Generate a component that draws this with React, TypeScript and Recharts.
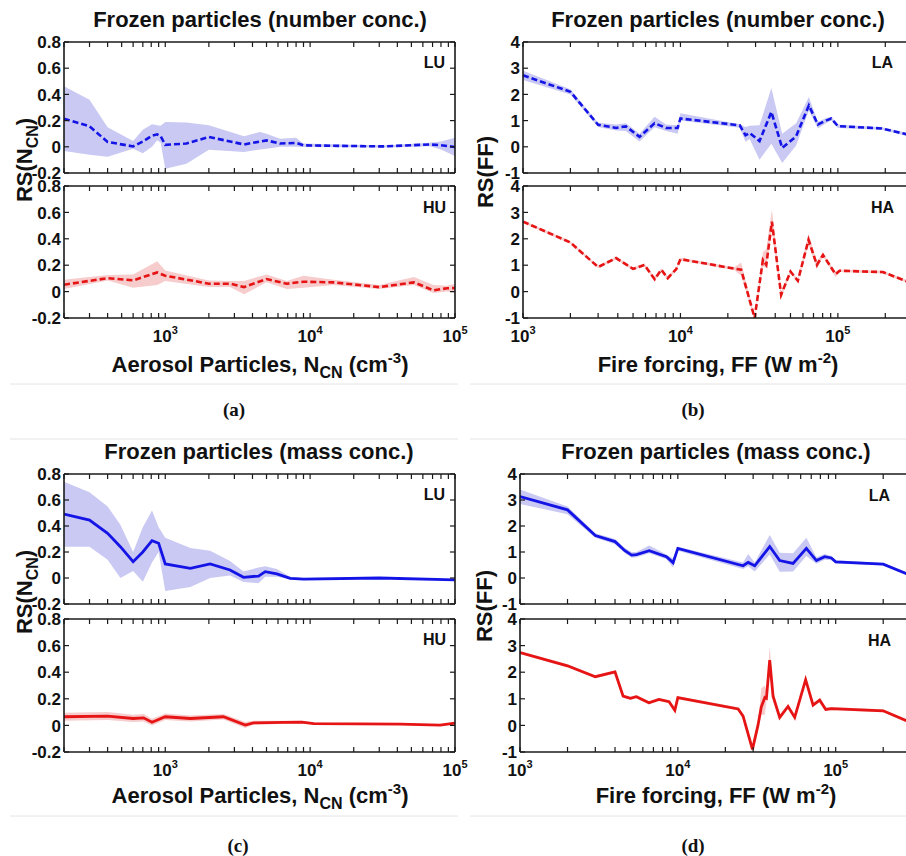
import { ComposedChart, Area, Line, XAxis, YAxis } from 'recharts'

// ---- (a) number concentration vs aerosol particles N_CN ----
const numLuX = [200, 300, 400, 600, 700, 810, 880, 930, 1000, 1400, 2000, 3500, 4500, 5000, 6200, 8000, 9000, 32000, 67000, 80000, 100000]
const numLuMean = [0.215, 0.156, 0.037, 0.003, 0.04, 0.085, 0.095, 0.08, 0.015, 0.025, 0.075, 0.018, 0.04, 0.049, 0.025, 0.03, 0.011, 0.003, 0.018, 0.012, -0.002]
const numLuHigh = [0.462, 0.36, 0.15, 0.044, 0.13, 0.172, 0.165, 0.16, 0.19, 0.185, 0.164, 0.08, 0.113, 0.1, 0.062, 0.07, 0.025, 0.01, 0.03, 0.04, 0.07]
const numLuLow = [-0.032, -0.06, -0.075, -0.014, -0.05, 0.0, 0.05, 0.03, -0.167, -0.13, -0.022, -0.04, -0.02, -0.014, 0.0, 0.0, -0.002, -0.005, 0.005, -0.02, -0.07]

const numHuX = [200, 400, 600, 880, 1000, 2000, 2800, 3500, 5000, 6900, 9000, 14500, 30000, 52000, 71000, 88000, 100000]
const numHuMean = [0.052, 0.102, 0.085, 0.145, 0.12, 0.06, 0.06, 0.034, 0.095, 0.06, 0.075, 0.07, 0.034, 0.07, 0.01, 0.025, 0.027]
const numHuHigh = [0.09, 0.125, 0.13, 0.23, 0.16, 0.085, 0.08, 0.08, 0.13, 0.08, 0.12, 0.09, 0.05, 0.11, 0.05, 0.045, 0.06]
const numHuLow = [0.02, 0.085, 0.03, 0.05, 0.08, 0.035, 0.035, -0.02, 0.07, 0.02, 0.03, 0.05, 0.02, 0.05, -0.01, 0.0, -0.01]

// ---- (b) number concentration vs fire forcing FF ----
const numLaX = [1000, 2000, 3000, 3900, 4500, 5500, 6850, 8100, 9600, 10000, 23800, 25900, 27500, 31800, 37800, 44300, 54300, 65400, 74700, 84000, 90700, 100000, 190000, 300000]
const numLaMean = [2.73, 2.1, 0.84, 0.72, 0.78, 0.38, 0.9, 0.72, 0.72, 1.08, 0.82, 0.44, 0.53, 0.22, 1.33, -0.04, 0.4, 1.58, 0.85, 1.0, 1.08, 0.79, 0.7, 0.42]
const numLaHigh = [2.9, 2.2, 0.92, 0.85, 0.9, 0.5, 1.15, 0.85, 0.82, 1.28, 0.86, 0.76, 0.8, 0.82, 2.24, 0.5, 0.9, 1.9, 0.95, 1.1, 1.15, 0.85, 0.75, 0.48]
const numLaLow = [2.55, 2.0, 0.76, 0.62, 0.6, 0.2, 0.75, 0.6, 0.5, 1.0, 0.73, 0.19, 0.3, -0.49, 0.12, -0.62, 0.05, 1.39, 0.7, 0.9, 1.0, 0.72, 0.65, 0.36]

const numHaX = [1000, 2000, 3000, 3900, 5000, 5900, 6860, 7550, 8300, 9400, 10000, 22000, 24300, 29600, 33400, 35100, 38100, 43600, 50000, 55700, 65100, 73600, 80400, 96600, 102600, 193000, 300000]
const numHaMean = [2.65, 1.86, 0.93, 1.27, 0.86, 1.01, 0.47, 0.83, 0.51, 0.85, 1.23, 0.87, 0.83, -1.0, 1.2, 1.01, 2.65, -0.12, 0.76, 0.41, 1.96, 1.01, 1.39, 0.66, 0.79, 0.74, 0.3]
const numHaHigh = [2.7, 1.91, 0.98, 1.32, 0.91, 1.06, 0.55, 0.88, 0.58, 0.9, 1.28, 0.92, 1.1, -0.95, 1.5, 1.6, 3.1, 0.0, 0.82, 0.47, 2.2, 1.15, 1.45, 0.75, 0.84, 0.79, 0.35]
const numHaLow = [2.6, 1.81, 0.88, 1.22, 0.81, 0.96, 0.4, 0.78, 0.44, 0.8, 1.18, 0.82, 0.6, -1.05, 0.95, 0.9, 2.3, -0.25, 0.7, 0.35, 1.8, 0.85, 1.33, 0.55, 0.74, 0.69, 0.25]

// ---- (c) mass concentration vs aerosol particles N_CN ----
const massLuX = [200, 300, 400, 490, 600, 700, 810, 900, 1000, 1490, 2040, 2800, 3470, 4400, 4900, 5890, 7280, 9000, 30000, 100000]
const massLuMean = [0.492, 0.446, 0.344, 0.241, 0.126, 0.2, 0.287, 0.267, 0.108, 0.074, 0.108, 0.062, 0.005, 0.015, 0.049, 0.031, -0.003, -0.008, 0.0, -0.015]
const massLuHigh = [0.74, 0.66, 0.55, 0.41, 0.2, 0.39, 0.52, 0.39, 0.31, 0.23, 0.21, 0.13, 0.05, 0.08, 0.09, 0.07, 0.01, 0.0, 0.005, -0.01]
const massLuLow = [0.24, 0.24, 0.14, 0.0, 0.054, -0.028, 0.12, 0.2, -0.1, -0.07, 0.0, 0.02, -0.03, -0.04, 0.01, 0.01, -0.01, -0.012, -0.005, -0.02]

const massHuX = [200, 400, 600, 708, 810, 1000, 1490, 2520, 3570, 4060, 6550, 8770, 10600, 41800, 78900, 100000]
const massHuMean = [0.065, 0.07, 0.052, 0.057, 0.024, 0.065, 0.052, 0.065, 0.002, 0.019, 0.022, 0.024, 0.014, 0.009, 0.002, 0.017]
const massHuHigh = [0.095, 0.1, 0.08, 0.085, 0.05, 0.09, 0.075, 0.085, 0.025, 0.035, 0.035, 0.035, 0.022, 0.015, 0.008, 0.025]
const massHuLow = [0.035, 0.04, 0.025, 0.03, 0.0, 0.04, 0.03, 0.045, -0.02, 0.005, 0.01, 0.012, 0.006, 0.003, -0.004, 0.009]

// ---- (d) mass concentration vs fire forcing FF ----
const massLaX = [1000, 2000, 3000, 4000, 4620, 5100, 5470, 6590, 8470, 9330, 10000, 25900, 27900, 30700, 38200, 44200, 53700, 65200, 75500, 85200, 93900, 100000, 200000, 300000]
const massLaMean = [3.13, 2.62, 1.63, 1.4, 1.05, 0.88, 0.9, 1.05, 0.82, 0.59, 1.14, 0.47, 0.6, 0.47, 1.21, 0.67, 0.56, 1.14, 0.67, 0.82, 0.77, 0.62, 0.53, 0.1]
const massLaHigh = [3.4, 2.75, 1.72, 1.5, 1.15, 1.0, 1.0, 1.25, 0.9, 0.75, 1.2, 0.6, 0.92, 0.6, 1.65, 0.97, 0.95, 1.55, 0.8, 0.92, 0.85, 0.68, 0.58, 0.15]
const massLaLow = [2.85, 2.45, 1.55, 1.3, 0.95, 0.78, 0.8, 0.95, 0.72, 0.4, 1.05, 0.35, 0.45, 0.25, 0.9, 0.24, 0.25, 0.85, 0.55, 0.7, 0.68, 0.56, 0.48, 0.05]

const massHaX = [1000, 2000, 3000, 4000, 4500, 5000, 5460, 6560, 7590, 8800, 9570, 10000, 24100, 25900, 29700, 32200, 33800, 35600, 36400, 38200, 40100, 44200, 49900, 55000, 64500, 71900, 79200, 86500, 93900, 200000, 300000]
const massHaMean = [2.74, 2.24, 1.83, 2.01, 1.1, 1.02, 1.08, 0.85, 0.98, 0.89, 0.57, 1.04, 0.62, 0.35, -0.9, 0.01, 0.7, 1.05, 1.02, 2.45, 1.1, 0.3, 0.71, 0.3, 1.72, 0.76, 0.95, 0.6, 0.63, 0.55, 0.1]
const massHaHigh = [2.8, 2.3, 1.89, 2.07, 1.16, 1.08, 1.14, 0.91, 1.04, 0.95, 0.63, 1.1, 0.68, 0.41, -0.84, 0.07, 1.4, 1.5, 1.3, 2.95, 1.3, 0.36, 0.77, 0.36, 1.78, 0.82, 1.01, 0.66, 0.69, 0.61, 0.16]
const massHaLow = [2.68, 2.18, 1.77, 1.95, 1.04, 0.96, 1.02, 0.79, 0.92, 0.83, 0.51, 0.98, 0.56, 0.29, -0.96, -0.05, 0.4, 0.4, 0.9, 2.1, 0.95, 0.24, 0.65, 0.24, 1.66, 0.7, 0.89, 0.54, 0.57, 0.49, 0.04]

// axis ranges and tick labels
const ncnDomain: [number, number] = [200, 100000]
const ffDomain: [number, number] = [1000, 300000]
const decadeTicks = [1000, 10000, 100000]
const smallYTicks = [-0.2, 0, 0.2, 0.4, 0.6, 0.8]
const bigYTicks = [-1, 0, 1, 2, 3, 4]

const FONT = '"Liberation Sans", Arial, Helvetica, sans-serif'
const AXIS = '#1a1a1a'
const BLUE = '#1414e6'
const RED = '#e61414'
const BLUE_BAND = '#c9c9f3'
const RED_BAND = '#f6cccc'

// 1..9 x 10^k ticks (minor + major) within a log domain
const logTicks = ([lo, hi]: [number, number]) => {
  const out: number[] = []
  for (let p = Math.floor(Math.log10(lo)); p <= Math.ceil(Math.log10(hi)); p++) {
    for (let m = 1; m <= 9; m++) {
      const v = m * Math.pow(10, p)
      if (v >= lo - 1e-9 && v <= hi + 1e-9) out.push(v)
    }
  }
  return out
}

const toRows = (xs: number[], mean: number[], low: number[], high: number[]) =>
  xs.map((x, i) => ({ x, mean: mean[i], band: [low[i], high[i]] }))

type SubplotProps = {
  left: number
  top: number
  width: number
  height: number
  rows: { x: number; mean: number; band: number[] }[]
  xDomain: [number, number]
  yTicks: number[]
  color: string
  bandColor: string
  dashed: boolean
  xLabels: boolean
}

const TICK = 5

const Subplot = ({ left, top, width, height, rows, xDomain, yTicks, color, bandColor, dashed, xLabels }: SubplotProps) => {
  const padL = 60
  const padT = 10
  const padR = xLabels ? 24 : 10
  const padB = xLabels ? 34 : 10
  const xTicks = logTicks(xDomain)
  const yDomain: [number, number] = [yTicks[0], yTicks[yTicks.length - 1]]

  const bottomTick = (p: any) => {
    const v = p.payload.value
    const major = decadeTicks.includes(v)
    return (
      <g>
        <line x1={p.x} x2={p.x} y1={p.y} y2={p.y - TICK} stroke={AXIS} strokeWidth={1.2} />
        {xLabels && major && (
          <text x={p.x} y={p.y + 24} textAnchor="middle" fontFamily={FONT} fontWeight="bold" fontSize={17} fill="#111">
            10
            <tspan dy={-8} fontSize={11}>
              {Math.round(Math.log10(v))}
            </tspan>
          </text>
        )}
      </g>
    )
  }
  const topTick = (p: any) => <line x1={p.x} x2={p.x} y1={p.y} y2={p.y + TICK} stroke={AXIS} strokeWidth={1.2} />
  const leftTick = (p: any) => (
    <g>
      <line x1={p.x} x2={p.x + TICK} y1={p.y} y2={p.y} stroke={AXIS} strokeWidth={1.2} />
      <text x={p.x - 3} y={p.y} dy="0.36em" textAnchor="end" fontFamily={FONT} fontWeight="bold" fontSize={17} fill="#111">
        {String(p.payload.value)}
      </text>
    </g>
  )
  const rightTick = (p: any) => <line x1={p.x} x2={p.x - TICK} y1={p.y} y2={p.y} stroke={AXIS} strokeWidth={1.2} />

  const axisLine = { stroke: AXIS, strokeWidth: 1.6 }

  return (
    <div style={{ position: 'absolute', left: left - padL, top: top - padT }}>
      <ComposedChart
        width={padL + width + padR}
        height={padT + height + padB}
        data={rows}
        margin={{ top: 0, right: 0, bottom: 0, left: 0 }}
      >
        <XAxis
          xAxisId="b"
          orientation="bottom"
          type="number"
          dataKey="x"
          scale="log"
          domain={xDomain}
          allowDataOverflow
          ticks={xTicks}
          interval={0}
          height={padB}
          tickSize={0}
          tickMargin={0}
          tickLine={false}
          axisLine={axisLine}
          tick={bottomTick}
        />
        <XAxis
          xAxisId="t"
          orientation="top"
          type="number"
          dataKey="x"
          scale="log"
          domain={xDomain}
          allowDataOverflow
          ticks={xTicks}
          interval={0}
          height={padT}
          tickSize={0}
          tickMargin={0}
          tickLine={false}
          axisLine={axisLine}
          tick={topTick}
        />
        <YAxis
          yAxisId="l"
          orientation="left"
          type="number"
          domain={yDomain}
          allowDataOverflow
          ticks={yTicks}
          interval={0}
          width={padL}
          tickSize={0}
          tickMargin={0}
          tickLine={false}
          axisLine={axisLine}
          tick={leftTick}
        />
        <YAxis
          yAxisId="r"
          orientation="right"
          type="number"
          domain={yDomain}
          allowDataOverflow
          ticks={yTicks}
          interval={0}
          width={padR}
          tickSize={0}
          tickMargin={0}
          tickLine={false}
          axisLine={axisLine}
          tick={rightTick}
        />
        <Area
          xAxisId="b"
          yAxisId="l"
          dataKey="band"
          type="linear"
          stroke="none"
          fill={bandColor}
          fillOpacity={1}
          dot={false}
          activeDot={false}
          isAnimationActive={false}
        />
        <Line
          xAxisId="b"
          yAxisId="l"
          dataKey="mean"
          type="linear"
          stroke={color}
          strokeWidth={dashed ? 2.6 : 2.8}
          strokeDasharray={dashed ? '6 3' : undefined}
          dot={false}
          activeDot={false}
          isAnimationActive={false}
        />
        <Line xAxisId="t" yAxisId="r" dataKey="mean" stroke="none" dot={false} activeDot={false} isAnimationActive={false} />
      </ComposedChart>
    </div>
  )
}

const txt = { fontFamily: FONT, fontWeight: 'bold' as const, fill: '#111' }

const Title = ({ x, y, children }: { x: number; y: number; children: any }) => (
  <text x={x} y={y} textAnchor="middle" fontSize={22} {...txt}>
    {children}
  </text>
)

const NcnLabel = ({ x, y }: { x: number; y: number }) => (
  <text transform={`translate(${x},${y}) rotate(-90)`} textAnchor="middle" fontSize={22} {...txt}>
    RS(N
    <tspan dy={6} fontSize={16}>
      CN
    </tspan>
    <tspan dy={-6}>)</tspan>
  </text>
)

const FfLabel = ({ x, y }: { x: number; y: number }) => (
  <text transform={`translate(${x},${y}) rotate(-90)`} textAnchor="middle" fontSize={22} {...txt}>
    RS(FF)
  </text>
)

const NcnTitle = ({ x, y }: { x: number; y: number }) => (
  <text x={x} y={y} textAnchor="middle" fontSize={22} {...txt}>
    Aerosol Particles, N
    <tspan dy={6} fontSize={16}>
      CN
    </tspan>
    <tspan dy={-6}> (cm</tspan>
    <tspan dy={-9} fontSize={15}>
      -3
    </tspan>
    <tspan dy={9}>)</tspan>
  </text>
)

const FfTitle = ({ x, y }: { x: number; y: number }) => (
  <text x={x} y={y} textAnchor="middle" fontSize={22} {...txt}>
    Fire forcing, FF (W m
    <tspan dy={-9} fontSize={15}>
      -2
    </tspan>
    <tspan dy={9}>)</tspan>
  </text>
)

const Tag = ({ x, y, children }: { x: number; y: number; children: string }) => (
  <text x={x} y={y} textAnchor="end" fontSize={16} {...txt}>
    {children}
  </text>
)

const PanelLetter = ({ x, y, children }: { x: number; y: number; children: string }) => (
  <text x={x} y={y} textAnchor="middle" fontSize={19} fontFamily='"Liberation Serif", "Times New Roman", serif' fontWeight="bold" fill="#111">
    {children}
  </text>
)

export default function App() {
  const blueDash = { color: BLUE, bandColor: BLUE_BAND }
  const redDash = { color: RED, bandColor: RED_BAND }
  return (
    <div style={{ position: 'absolute', left: 0, top: 0, width: 906, height: 856, overflow: 'hidden', background: '#fff' }}>
      {/* (a) */}
      <Subplot left={64} top={42} width={391} height={131} rows={toRows(numLuX, numLuMean, numLuLow, numLuHigh)} xDomain={ncnDomain} yTicks={smallYTicks} {...blueDash} dashed xLabels={false} />
      <Subplot left={64} top={186} width={391} height={132} rows={toRows(numHuX, numHuMean, numHuLow, numHuHigh)} xDomain={ncnDomain} yTicks={smallYTicks} {...redDash} dashed xLabels />
      {/* (b) */}
      <Subplot left={523} top={42} width={390} height={131} rows={toRows(numLaX, numLaMean, numLaLow, numLaHigh)} xDomain={ffDomain} yTicks={bigYTicks} {...blueDash} dashed xLabels={false} />
      <Subplot left={523} top={186} width={390} height={132} rows={toRows(numHaX, numHaMean, numHaLow, numHaHigh)} xDomain={ffDomain} yTicks={bigYTicks} {...redDash} dashed xLabels />
      {/* (c) */}
      <Subplot left={64} top={474} width={391} height={130} rows={toRows(massLuX, massLuMean, massLuLow, massLuHigh)} xDomain={ncnDomain} yTicks={smallYTicks} {...blueDash} dashed={false} xLabels={false} />
      <Subplot left={64} top={619} width={391} height={133} rows={toRows(massHuX, massHuMean, massHuLow, massHuHigh)} xDomain={ncnDomain} yTicks={smallYTicks} {...redDash} dashed={false} xLabels />
      {/* (d) */}
      <Subplot left={520} top={474} width={391} height={130} rows={toRows(massLaX, massLaMean, massLaLow, massLaHigh)} xDomain={ffDomain} yTicks={bigYTicks} {...blueDash} dashed={false} xLabels={false} />
      <Subplot left={520} top={619} width={391} height={133} rows={toRows(massHaX, massHaMean, massHaLow, massHaHigh)} xDomain={ffDomain} yTicks={bigYTicks} {...redDash} dashed={false} xLabels />

      <svg width={906} height={856} style={{ position: 'absolute', left: 0, top: 0, pointerEvents: 'none' }}>
        {/* frame lines between the sub-figures */}
        {[384, 439, 816].map((y) => (
          <g key={y}>
            <line x1={10} x2={458} y1={y} y2={y} stroke="#e4e4e4" strokeWidth={1} />
            <line x1={470} x2={906} y1={y} y2={y} stroke="#e4e4e4" strokeWidth={1} />
          </g>
        ))}

        <Title x={260} y={27}>Frozen particles (number conc.)</Title>
        <Title x={718} y={27}>Frozen particles (number conc.)</Title>
        <Title x={259} y={459}>Frozen particles (mass conc.)</Title>
        <Title x={716} y={459}>Frozen particles (mass conc.)</Title>

        <NcnLabel x={32} y={160} />
        <FfLabel x={493} y={172} />
        <NcnLabel x={32} y={592} />
        <FfLabel x={492} y={606} />

        <NcnTitle x={260} y={372} />
        <FfTitle x={718} y={372} />
        <NcnTitle x={260} y={803} />
        <FfTitle x={716} y={803} />

        <Tag x={445} y={68}>LU</Tag>
        <Tag x={446} y={213}>HU</Tag>
        <Tag x={893} y={68}>LA</Tag>
        <Tag x={894} y={213}>HA</Tag>
        <Tag x={445} y={500}>LU</Tag>
        <Tag x={446} y={645}>HU</Tag>
        <Tag x={890} y={501}>LA</Tag>
        <Tag x={891} y={646}>HA</Tag>

        <PanelLetter x={234} y={416}>(a)</PanelLetter>
        <PanelLetter x={693} y={416}>(b)</PanelLetter>
        <PanelLetter x={238} y={852}>(c)</PanelLetter>
        <PanelLetter x={693} y={852}>(d)</PanelLetter>
      </svg>
    </div>
  )
}
